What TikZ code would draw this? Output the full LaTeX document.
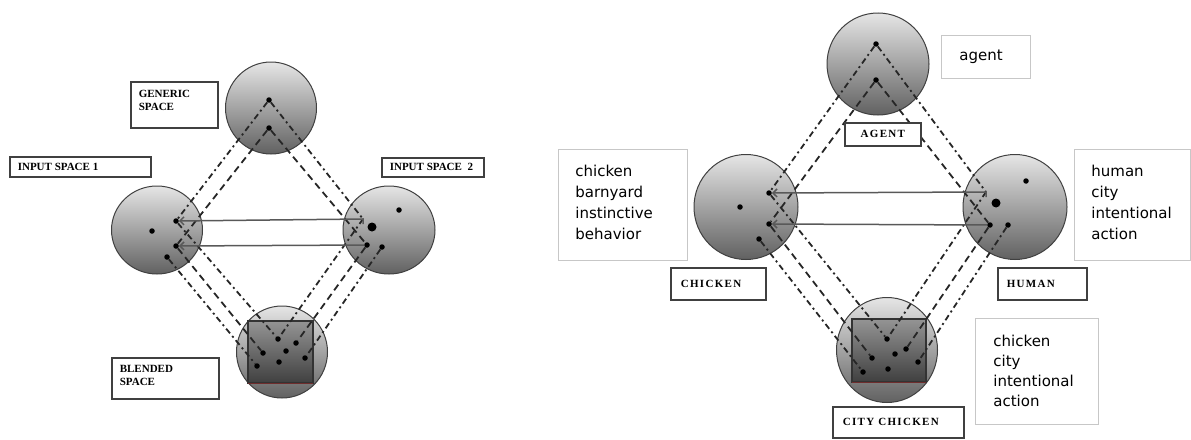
\documentclass[tikz,border=0pt]{standalone}
\usepackage{fontspec}
\setmainfont{Liberation Serif}
\newfontfamily\notefont{DejaVu Sans}
\newfontfamily\capsR[LetterSpace=12]{Liberation Serif}
\usetikzlibrary{shapes.geometric,arrows.meta}
\definecolor{boxred}{RGB}{110,45,45}
\newcommand{\topbox}[3]{\parbox[c][#2][t]{#1}{\raggedright #3}}
\newcommand{\midbox}[3]{\parbox[c][#2][c]{#1}{\raggedright #3}}
\newcommand{\ctrbox}[3]{\parbox[c][#2][c]{#1}{\centering #3}}
\tikzset{
  space/.style={ellipse, draw=black!75, line width=1pt, top color=black!10, bottom color=black!62, inner sep=0pt},
  inbox/.style={draw=black!80, line width=1.2pt, top color=black!42, bottom color=black!75},
  dot/.style={circle, fill=black, inner sep=0pt, minimum size=5.5pt},
  bigdot/.style={circle, fill=black, inner sep=0pt, minimum size=9pt},
  dashdot/.style={line width=1.8pt, black!85, dash pattern=on 6pt off 3.5pt on 2pt off 3.5pt},
  dashln/.style={line width=1.8pt, black!85, dash pattern=on 7pt off 4.5pt},
  mapline/.style={line width=1.5pt, black!65},
  capbox/.style={draw=black!75, line width=1.6pt, fill=white, inner xsep=8pt, inner ysep=0pt, anchor=north west, font=\fontsize{11}{13}\selectfont\bfseries},
  notebox/.style={draw=black!22, line width=0.8pt, fill=white, inner ysep=0pt, anchor=north west, font=\notefont\fontsize{15}{21}\selectfont}
}
\begin{document}
\begin{tikzpicture}[x=1pt,y=-1pt]
\useasboundingbox (0,0) rectangle (1191,439);
% ---------------- left diagram ----------------
\node[space, minimum width=91pt, minimum height=92pt] (gen) at (271,108) {};
\node[space, minimum width=91pt, minimum height=88pt] (in1) at (157,230) {};
\node[space, minimum width=92pt, minimum height=88pt] (in2) at (389,230) {};
\node[space, minimum width=91pt, minimum height=92pt] (bl) at (282,352) {};
\draw[inbox] (248,321) rectangle (313,383);
\draw[line width=1pt, boxred] (248,383) -- (313,383);

\node[dot] (g1) at (269,100) {};
\node[dot] (g2) at (269,128) {};
\node[dot] (a0) at (152,231) {};
\node[dot] (a1) at (176,221) {};
\node[dot] (a2) at (176,246) {};
\node[dot] (a3) at (167,257) {};
\node[dot] (b0) at (399,210) {};
\node[bigdot] (bbig) at (372,227) {};
\coordinate (b1) at (363,219);
\coordinate (b1t) at (363,224);
\node[dot] (b2) at (367,245) {};
\node[dot] (b3) at (382,247) {};
\node[dot] (v) at (278,339) {};
\node[dot] (d1) at (296,343) {};
\node[dot] (d2) at (286,351) {};
\node[dot] (d3) at (263,353) {};
\node[dot] (d4) at (279,362) {};
\node[dot] (d5) at (257,366) {};
\node[dot] (d6) at (305,358) {};

\draw[dashdot] (g1) -- (a1);
\draw[dashdot] (g1) -- (b1);
\draw[dashln] (g2) -- (a2);
\draw[dashln] (g2) -- (b2);
\draw[dashdot] (a1) -- (v);
\draw[dashln] (a2) -- (d3);
\draw[dashdot] (a3) -- (d5);
\draw[dashdot] (b1) -- (v);
\draw[dashln] (b2) -- (d1);
\draw[dashdot] (b3) -- (d6);

\draw[mapline, {Straight Barb[length=4pt,width=8pt]}-] (a1) -- (b1) -- (b1t);
\draw[mapline, {Straight Barb[length=4pt,width=8pt]}-] (a2) -- (b2);

\node[capbox] (lgen) at (130,81) {\topbox{71pt}{46pt}{\rule{0pt}{16pt}GENERIC\\SPACE}};
\node[capbox] (lin1) at (9,156) {\midbox{125pt}{20pt}{INPUT SPACE 1}};
\node[capbox] (lin2) at (381,157) {\midbox{86pt}{19pt}{INPUT SPACE\ \ 2}};
\node[capbox] (lbl) at (111,357) {\topbox{91pt}{41pt}{\rule{0pt}{15pt}BLENDED\\SPACE}};

% ---------------- right diagram ----------------
\node[space, minimum width=102pt, minimum height=102pt] (ag) at (878,64) {};
\node[space, minimum width=104pt, minimum height=105pt] (ch) at (746,207) {};
\node[space, minimum width=104pt, minimum height=105pt] (hu) at (1015,207) {};
\node[space, minimum width=101pt, minimum height=105pt] (cc) at (887,350) {};
\draw[inbox] (852,319) rectangle (926,382);
\draw[line width=1pt, boxred] (852,382) -- (926,382);

\node[dot] (t1) at (876,44) {};
\node[dot] (t2) at (876,80) {};
\node[dot] (c0) at (740,207) {};
\node[dot] (c1) at (769,193) {};
\node[dot] (c2) at (769,224) {};
\node[dot] (c3) at (759,239) {};
\node[dot] (h0) at (1026,181) {};
\node[bigdot] (hbig) at (996,203) {};
\coordinate (h1) at (986,192);
\coordinate (h1t) at (986,197);
\node[dot] (h2) at (990,225) {};
\node[dot] (h3) at (1008,225) {};
\node[dot] (wv) at (887,339) {};
\node[dot] (e1) at (906,349) {};
\node[dot] (e2) at (895,354) {};
\node[dot] (e3) at (872,358) {};
\node[dot] (e4) at (888,369) {};
\node[dot] (e5) at (863,372) {};
\node[dot] (e6) at (918,362) {};

\draw[dashdot] (t1) -- (c1);
\draw[dashdot] (t1) -- (h1);
\draw[dashln] (t2) -- (c2);
\draw[dashln] (t2) -- (h2);
\draw[dashdot] (c1) -- (wv);
\draw[dashln] (c2) -- (e3);
\draw[dashdot] (c3) -- (e5);
\draw[dashdot] (h1) -- (wv);
\draw[dashln] (h2) -- (e1);
\draw[dashdot] (h3) -- (e6);

\draw[mapline, {Straight Barb[length=4pt,width=8pt]}-] (c1) -- (h1) -- (h1t);
\draw[mapline, {Straight Barb[length=4pt,width=8pt]}-] (c2) -- (h2);

\node[notebox, inner xsep=18pt] (lag) at (941,35) {\midbox{53pt}{43pt}{agent}};
\node[capbox] (lAG) at (844,122) {\ctrbox{60pt}{23pt}{\capsR\bfseries AGENT}};
\node[capbox] (lCH) at (670,267) {\midbox{79pt}{32pt}{\hspace*{2pt}\capsR\bfseries CHICKEN}};
\node[capbox] (lHU) at (997,267) {\midbox{73pt}{32pt}{\hspace*{1pt}\capsR\bfseries HUMAN}};
\node[capbox] (lCC) at (832,406) {\midbox{115pt}{31pt}{\hspace*{2pt}\capsR\bfseries CITY CHICKEN}};
\node[notebox, inner xsep=17pt] (lchk) at (558,149) {\topbox{95pt}{111pt}{\rule{0pt}{27pt}chicken\\barnyard\\instinctive\\behavior}};
\node[notebox, inner xsep=17pt] (lhum) at (1074,149) {\topbox{82pt}{111pt}{\rule{0pt}{27pt}human\\city\\intentional\\action}};
\node[notebox, inner xsep=18pt, font=\notefont\fontsize{15}{20}\selectfont] (lcc) at (975,318) {\topbox{87pt}{106pt}{\rule{0pt}{28pt}chicken\\city\\intentional\\action}};
\end{tikzpicture}
\end{document}
